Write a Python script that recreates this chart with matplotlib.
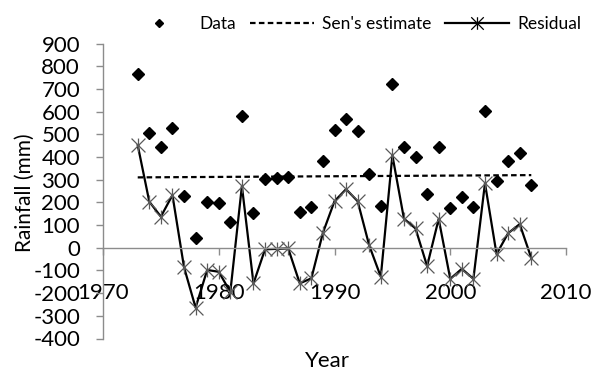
import matplotlib
matplotlib.use("Agg")
import matplotlib.pyplot as plt
from matplotlib.path import Path
from matplotlib.lines import Line2D

plt.rcParams['font.family'] = ['Lato', 'DejaVu Sans']

years = list(range(1973, 2008))
data = [765, 507, 442, 529, 228, 44, 203, 196, 115, 581,
        154, 303, 306, 310, 156, 178, 383, 521, 566, 514,
        323, 185, 721, 442, 401, 235, 442, 176, 222, 178,
        604, 295, 383, 418, 276]
residual = [452, 203, 137, 232, -86, -264, -98, -106, -195, 272,
            -157, -7, -5, -3, -157, -135, 66, 205, 258, 205,
            10, -128, 407, 128, 85, -81, 127, -137, -93, -137,
            284, -28, 64, 104, -45]
sen_years = [1973, 2007]
sen_values = [310, 320]

xticks = [1970, 1980, 1990, 2000, 2010]
yticks = list(range(-400, 1000, 100))

W, H = 600, 372
fig = plt.figure(figsize=(W / 100, H / 100), dpi=100)
ax = fig.add_axes([103 / W, 1 - 338.5 / H, (566 - 103) / W, (338.5 - 43.5) / H])

star = Path([(-0.5, -0.5), (0.5, 0.5), (-0.5, 0.5), (0.5, -0.5), (0, -0.5), (0, 0.5)],
            [Path.MOVETO, Path.LINETO, Path.MOVETO, Path.LINETO, Path.MOVETO, Path.LINETO])

ax.plot(years, data, linestyle='none', marker='D', ms=6.3, color='black', zorder=3)
ax.plot(sen_years, sen_values, color='black', lw=1.6, linestyle=(0, (2.5, 1.5)), zorder=2)
ax.plot(years, residual, color='black', lw=1.6, marker=star, ms=10,
        mec='#5a5a5a', mew=0.9, zorder=2)

ax.set_xlim(1970, 2010)
ax.set_ylim(-400, 900)
ax.set_xticks(xticks)
ax.set_yticks(yticks)
ax.set_xticklabels([str(v) for v in xticks])
ax.set_yticklabels([str(v) for v in yticks])

for s in ['top', 'right']:
    ax.spines[s].set_visible(False)
ax.spines['bottom'].set_position(('data', 0))
for s in ['left', 'bottom']:
    ax.spines[s].set_color('#8c8c8c')
    ax.spines[s].set_linewidth(1.0)

ax.tick_params(axis='y', direction='out', length=5, width=1, color='#8c8c8c',
               pad=11.5, labelsize=16)
ax.tick_params(axis='x', direction='out', length=5, width=1, color='#8c8c8c',
               pad=20.5, labelsize=16)

fig.text(25 / W, 1 - 193 / H, 'Rainfall (mm)', rotation=90, ha='center', va='center',
         fontsize=15)
fig.text(327 / W, 1 - 361 / H, 'Year', ha='center', va='center', fontsize=16)

handles = [
    Line2D([], [], linestyle='none', marker='D', ms=4.5, color='black'),
    Line2D([], [], color='black', lw=1.6, linestyle=(0, (2.5, 1.5))),
    Line2D([], [], color='black', lw=1.6, marker=star, ms=9, mec='black', mew=0.9),
]
fig.legend(handles, ['Data', "Sen's estimate", 'Residual'], ncol=3, frameon=False,
           loc='center', bbox_to_anchor=(354 / W, 1 - 24 / H), fontsize=12.5,
           handlelength=3.7, handletextpad=0.45, columnspacing=0.8,
           borderaxespad=0, borderpad=0)

fig.savefig('out.png', dpi=100)
